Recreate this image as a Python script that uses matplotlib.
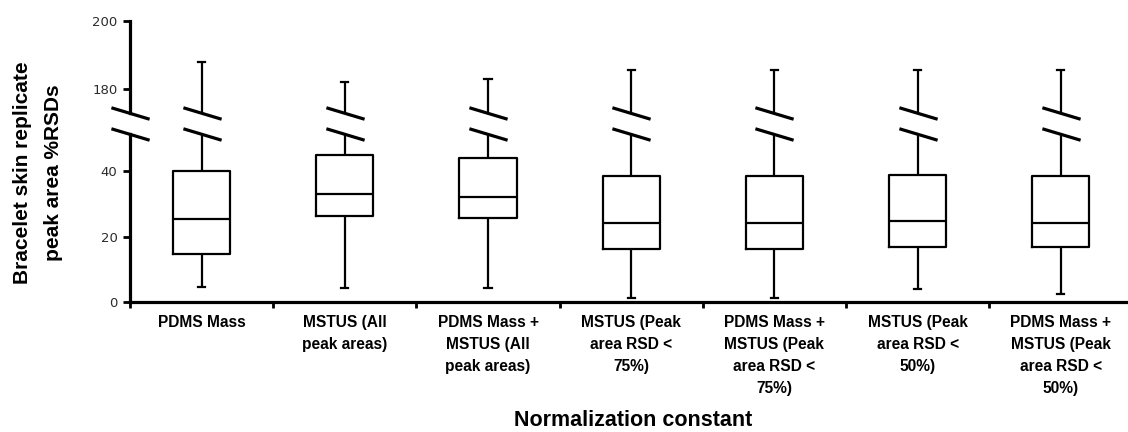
import matplotlib
matplotlib.use("Agg")
import matplotlib.pyplot as plt
from matplotlib.path import Path
from matplotlib.transforms import blended_transform_factory

# Normalization constants compared
categories = [
    "PDMS Mass",
    "MSTUS (All\npeak areas)",
    "PDMS Mass +\nMSTUS (All\npeak areas)",
    "MSTUS (Peak\narea RSD <\n75%)",
    "PDMS Mass +\nMSTUS (Peak\narea RSD <\n75%)",
    "MSTUS (Peak\narea RSD <\n50%)",
    "PDMS Mass +\nMSTUS (Peak\narea RSD <\n50%)",
]

# Box-and-whisker summaries of replicate %RSDs (min, Q1, median, Q3, max)
whisker_low = [4.8, 4.5, 4.5, 1.4, 1.4, 4.0, 2.5]
quartile_1 = [14.6, 26.3, 25.6, 16.1, 16.1, 16.8, 16.8]
medians = [25.3, 33.0, 32.2, 24.3, 24.3, 24.7, 24.3]
quartile_3 = [40.0, 44.8, 44.0, 38.5, 38.5, 38.9, 38.5]
whisker_high = [188.0, 182.0, 182.8, 185.6, 185.6, 185.6, 185.6]

lower_ticks = [0, 20, 40]
upper_ticks = [180, 200]
lower_range = (0, 51.3)
upper_range = (173.0, 200)

stats = [
    dict(whislo=lo, q1=a, med=m, q3=b, whishi=hi, fliers=[])
    for lo, a, m, b, hi in zip(whisker_low, quartile_1, medians, quartile_3, whisker_high)
]

W, H = 1128, 432
fig = plt.figure(figsize=(W / 100, H / 100), dpi=100)

left_px, right_px = 130, 1128
ax_lo = fig.add_axes([left_px / W, (H - 302.3) / H, (right_px - left_px) / W, (302.3 - 134) / H])
ax_hi = fig.add_axes([left_px / W, (H - 113) / H, (right_px - left_px) / W, (113 - 20.7) / H])

n = len(categories)
positions = list(range(n))
line_kw = dict(color="black", linewidth=1.6, solid_capstyle="butt")
for ax in (ax_lo, ax_hi):
    ax.bxp(stats, positions=positions, widths=0.4, capwidths=0.05,
           showfliers=False, patch_artist=False,
           boxprops=dict(color="black", linewidth=1.6),
           whiskerprops=line_kw, capprops=dict(color="black", linewidth=1.6),
           medianprops=dict(color="black", linewidth=1.6))
    ax.set_xlim(-0.5, -0.5 + (right_px - left_px) / 143.2)
    for side in ("top", "right"):
        ax.spines[side].set_visible(False)
    ax.spines["left"].set_linewidth(2.3)
    ax.spines["bottom"].set_linewidth(2.3)
    ax.tick_params(axis="y", direction="out", length=5, width=2, pad=4,
                   labelsize=9.5, labelcolor="#2b2b2b")
    ax.set_facecolor("none")

ax_lo.set_ylim(*lower_range)
ax_hi.set_ylim(*upper_range)
ax_lo.set_yticks(lower_ticks)
ax_hi.set_yticks(upper_ticks)
ax_hi.spines["bottom"].set_visible(False)
ax_hi.tick_params(axis="x", which="both", bottom=False, labelbottom=False)

# Category boundaries carry the tick marks; names sit at category centres
ax_lo.set_xticks([p - 0.5 for p in positions])
ax_lo.set_xticklabels([])
ax_lo.tick_params(axis="x", which="major", direction="out", length=4.5, width=2)
ax_lo.set_xticks(positions, minor=True)
ax_lo.set_xticklabels(categories, minor=True, fontsize=11.2, fontweight="bold",
                      family="Liberation Sans", linespacing=1.6, va="top")
ax_lo.tick_params(axis="x", which="minor", length=0, pad=9)

# Break marks across the axis and every whisker
slash = Path([(-1.0, 0.3), (1.0, -0.3)], [Path.MOVETO, Path.LINETO])
break_x = [-0.5] + positions
for ax, yfrac in ((ax_hi, 0.0), (ax_lo, 1.0)):
    tr = blended_transform_factory(ax.transData, ax.transAxes)
    ax.plot(break_x, [yfrac] * len(break_x), linestyle="none", marker=slash,
            markersize=27.5, markeredgewidth=2.3, markeredgecolor="black",
            markerfacecolor="none", transform=tr, clip_on=False, zorder=5)

fig.text(38 / W, 1 - 172.5 / H, "Bracelet skin replicate\npeak area %RSDs",
         rotation=90, ha="center", va="center", multialignment="center",
         fontsize=15, fontweight="bold", family="Liberation Sans", linespacing=1.8)
fig.text(633 / W, 1 - 420 / H, "Normalization constant", ha="center", va="center",
         fontsize=15.5, fontweight="bold", family="Liberation Sans")

fig.savefig("out.png", dpi=100, facecolor="white")
